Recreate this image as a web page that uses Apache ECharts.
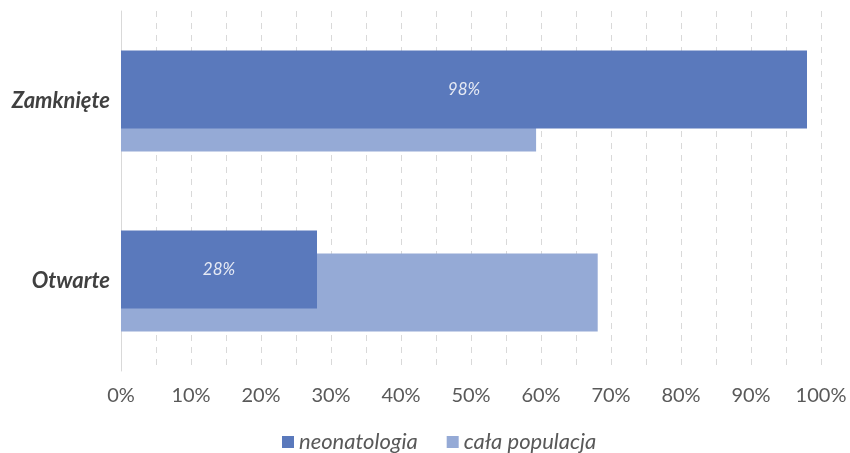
<!DOCTYPE html>
<html><head><meta charset="utf-8">
<script src="https://cdn.jsdelivr.net/npm/echarts@6/dist/echarts.min.js"></script>
<style>html,body{margin:0;padding:0;background:#fff}#c{width:850px;height:453px}</style>
</head><body><div id="c"></div>
<script>
var categories = ['Otwarte', 'Zamknięte'];
var neonatologia = [28, 98];
var calaPopulacja = [68.1, 59.3];
var seriesNames = ['neonatologia', 'cała populacja'];

var chart = echarts.init(document.getElementById('c'));
chart.setOption({
  animation: false,
  textStyle: { fontFamily: 'Lato' },
  grid: { left: 121, right: 29, top: 11, bottom: 82 },
  legend: {
    data: seriesNames,
    top: 426,
    left: 277,
    itemWidth: 12, itemHeight: 12, itemGap: 29,
    icon: 'rect',
    textStyle: { fontFamily: 'Lato', fontStyle: 'italic', fontSize: 22, color: '#595959' }
  },
  xAxis: {
    type: 'value', min: 0, max: 100, interval: 5,
    axisLine: { show: false }, axisTick: { show: false },
    splitLine: { show: true, lineStyle: { type: [6, 6], color: '#d9d9d9', width: 1 } },
    axisLabel: {
      fontSize: 20, color: '#595959', margin: 15,
      formatter: function (v) { return v % 10 === 0 ? v + '%' : ''; }
    }
  },
  yAxis: {
    type: 'category', data: categories,
    axisLine: { show: true, lineStyle: { color: '#d9d9d9', width: 1 } },
    axisTick: { show: false },
    axisLabel: { fontSize: 22, fontWeight: 'bold', fontStyle: 'italic', color: '#404040', margin: 11 }
  },
  series: [
    {
      name: seriesNames[0], type: 'bar', data: neonatologia,
      barWidth: 78, barGap: '-70.5%',
      itemStyle: { color: '#5a79bc' },
      label: {
        show: true, position: 'inside', formatter: '{c}%',
        fontStyle: 'italic', fontSize: 17, color: '#e6eaf4', fontFamily: 'Lato'
      },
      z: 3
    },
    {
      name: seriesNames[1], type: 'bar', data: calaPopulacja,
      barWidth: 78, barGap: '-70.5%',
      itemStyle: { color: '#95aad6' },
      z: 1
    }
  ]
});
</script></body></html>
